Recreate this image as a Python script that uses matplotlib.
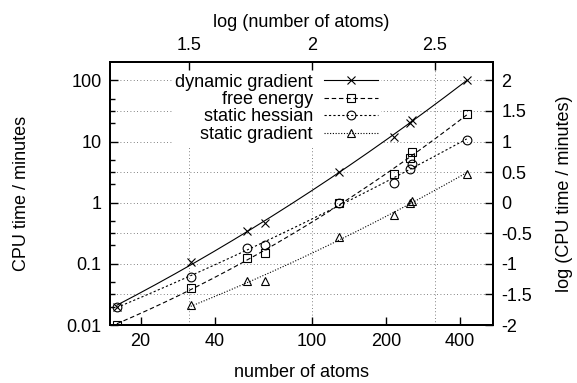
import numpy as np
import matplotlib
matplotlib.use('Agg')
import matplotlib.pyplot as plt
from matplotlib.ticker import FixedLocator, NullFormatter, NullLocator

plt.rcParams['font.family'] = ['Liberation Sans', 'DejaVu Sans']

# number of atoms for each system
atoms = [16, 32, 54, 64, 128, 215, 250, 254, 426]
atoms_sg = [32, 54, 64, 128, 215, 250, 254, 426]

# CPU time in minutes
dyn_grad = [0.02, 0.108, 0.343, 0.457, 3.18, 11.9, 20.1, 22.2, 102]
free_energy = [0.01, 0.041, 0.123, 0.151, 0.99, 2.9, 5.3, 6.7, 28.6]
static_hess = [0.02, 0.06, 0.183, 0.202, 1.0, 2.1, 3.6, 4.3, 10.5]
static_grad = [0.021, 0.053, 0.053, 0.277, 0.625, 1.0, 1.05, 3.0]

x_ticks = [20, 40, 100, 200, 400]
y_ticks = [0.01, 0.1, 1, 10, 100]
top_ticks = [1.5, 2, 2.5]
right_ticks = [-2, -1.5, -1, -0.5, 0, 0.5, 1, 1.5, 2]

series = [
    ('dynamic gradient', atoms, dyn_grad, 'x', '-'),
    ('free energy', atoms, free_energy, 's', (0, (4, 2.5))),
    ('static hessian', atoms, static_hess, 'o', (0, (2, 2))),
    ('static gradient', atoms_sg, static_grad, '^', (0, (1, 1.5))),
]


def loglog_fit(x, y, deg=2):
    """Quadratic trend through the points in log-log space."""
    lx, ly = np.log10(x), np.log10(y)
    coef = np.polyfit(lx, ly, deg)
    xs = np.linspace(lx.min(), lx.max(), 200)
    return 10 ** xs, 10 ** np.polyval(coef, xs)


fig = plt.figure(figsize=(5.77, 3.83), dpi=100)
ax = fig.add_axes([0.1906, 0.1514, 0.8544 - 0.1906, 0.8381 - 0.1514])
ax.set_xscale('log')
ax.set_yscale('log')
ax.set_xlim(15, 545)
ax.set_ylim(0.01, 10 ** 2.3)

fs = 13

for label, x, y, mk, ls in series:
    fx, fy = loglog_fit(x, y)
    ax.plot(fx, fy, color='black', lw=0.8, ls=ls)
    ax.plot(x, y, ls='none', marker=mk, ms=6.3, mfc='none', mec='black', mew=0.8)
    ax.plot([], [], color='black', lw=0.8, ls=ls, marker=mk, ms=6.3,
            mfc='none', mec='black', mew=0.8, label=label)

# grid follows the top / right (log10) axes
for v in top_ticks:
    ax.axvline(10 ** v, color='0.35', lw=0.6, ls=(0, (1, 3)), zorder=0)
for v in right_ticks:
    ax.axhline(10 ** v, color='0.35', lw=0.6, ls=(0, (1, 3)), zorder=0)

ax.xaxis.set_major_locator(FixedLocator(x_ticks))
ax.xaxis.set_minor_locator(NullLocator())
ax.set_xticklabels([str(t) for t in x_ticks])
ax.yaxis.set_major_locator(FixedLocator(y_ticks))
minor_y = [m * 10.0 ** e for e in range(-2, 3) for m in (2, 5)]
minor_y += [10 ** v for v in right_ticks if v % 1]
ax.yaxis.set_minor_locator(FixedLocator(minor_y))
ax.yaxis.set_minor_formatter(NullFormatter())
ax.set_yticklabels(['0.01', '0.1', '1', '10', '100'])
ax.tick_params(which='both', direction='in', labelsize=fs, pad=6)
ax.tick_params(which='major', length=6, width=1)
ax.tick_params(which='minor', length=3.5, width=1)
for s in ax.spines.values():
    s.set_linewidth(1.3)

# top axis: log10 of number of atoms
top = ax.twiny()
top.set_xlim(np.log10(ax.get_xlim()))
top.set_xticks(top_ticks)
top.set_xticklabels(['1.5', '2', '2.5'])
top.tick_params(direction='in', length=6, width=1, labelsize=fs, pad=6)
top.set_xlabel('log (number of atoms)', fontsize=fs, labelpad=7)

# right axis: log10 of CPU time
right = ax.twinx()
right.set_ylim(np.log10(ax.get_ylim()))
right.set_yticks(right_ticks)
right.set_yticklabels(['-2', '-1.5', '-1', '-0.5', '0', '0.5', '1', '1.5', '2'])
right.tick_params(direction='in', length=6, width=1, labelsize=fs, pad=6)
right.set_ylabel('log (CPU time / minutes)', fontsize=fs, labelpad=17)
for a in (top, right):
    for s in a.spines.values():
        s.set_linewidth(1.3)

ax.set_xlabel('number of atoms', fontsize=fs, labelpad=10)
ax.set_ylabel('CPU time / minutes', fontsize=fs, labelpad=26)

leg = ax.legend(loc='upper right', bbox_to_anchor=(0.73, 1.0), markerfirst=False,
                fontsize=fs, handlelength=3.0, handletextpad=0.6,
                labelspacing=0.02, borderpad=0.15, frameon=True, fancybox=False)
leg.get_frame().set_facecolor('white')
leg.get_frame().set_edgecolor('none')
leg.get_frame().set_alpha(1)
# legend box hides the grid but not the data curves
leg.set_zorder(1)

fig.savefig('out.png', dpi=100)
